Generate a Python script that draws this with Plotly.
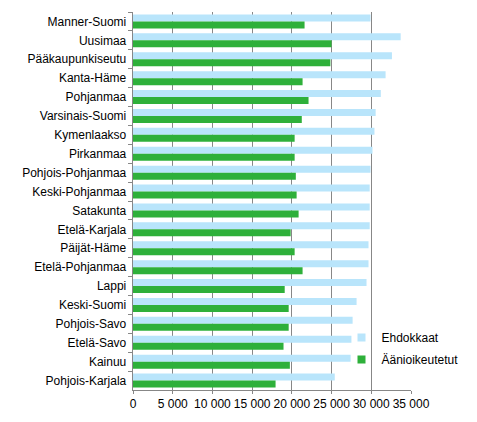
import plotly.graph_objects as go

categories = ["Manner-Suomi", "Uusimaa", "Pääkaupunkiseutu", "Kanta-Häme", "Pohjanmaa",
              "Varsinais-Suomi", "Kymenlaakso", "Pirkanmaa", "Pohjois-Pohjanmaa", "Keski-Pohjanmaa",
              "Satakunta", "Etelä-Karjala", "Päijät-Häme", "Etelä-Pohjanmaa", "Lappi",
              "Keski-Suomi", "Pohjois-Savo", "Etelä-Savo", "Kainuu", "Pohjois-Karjala"]
ehdokkaat = [29900, 33700, 32600, 31800, 31200, 30550, 30400, 30150, 29900, 29800,
             29800, 29800, 29650, 29650, 29400, 28150, 27650, 27500, 27400, 25400]
aanioikeutetut = [21600, 25000, 24850, 21350, 22100, 21250, 20350, 20350, 20500, 20600,
                  20850, 19850, 20350, 21350, 19100, 19600, 19600, 18950, 19750, 17950]
x_tickvals = [0, 5000, 10000, 15000, 20000, 25000, 30000, 35000]
x_ticktext = ["0", "5 000", "10 000", "15 000", "20 000", "25 000", "30 000", "35 000"]
series_names = ["Ehdokkaat", "Äänioikeutetut"]
series_colors = ["#B9E5FB", "#2EB03A"]

grid = "#878787"
fig = go.Figure()
for name, vals, col, grp in zip(series_names, [ehdokkaat, aanioikeutetut], series_colors, ["a", "b"]):
    fig.add_trace(go.Bar(y=categories, x=vals, orientation="h", name=name,
                         marker=dict(color=col, line=dict(width=0)),
                         legendgroup=grp, showlegend=False))
    # legend entry with a small square swatch (like the original)
    fig.add_trace(go.Scatter(x=[None], y=[None], mode="markers", name=name,
                             marker=dict(symbol="square", size=8, color=col, line=dict(width=0)),
                             legendgroup=grp, showlegend=True, hoverinfo="skip"))

fig.update_layout(
    width=477, height=422,
    margin=dict(l=133, r=66, t=12, b=32),
    barmode="group", bargap=0.26, bargroupgap=0,
    plot_bgcolor="white", paper_bgcolor="white",
    font=dict(family="Liberation Sans, Arial, sans-serif", size=12, color="black"),
    legend=dict(x=0.75, y=0.177, xanchor="left", yanchor="top", bgcolor="rgba(0,0,0,0)",
                font=dict(size=12), tracegroupgap=3, itemwidth=30),
    shapes=[dict(type="rect", xref="paper", yref="paper", x0=0.87, x1=1.2, y0=0.061, y1=0.164,
                 fillcolor="white", line=dict(width=0), layer="between")],
)
fig.update_xaxes(range=[0, 35000], tickvals=x_tickvals, ticktext=x_ticktext, tickangle=0,
                 showgrid=True, gridcolor=grid, gridwidth=1, showline=True, linecolor=grid,
                 ticks="outside", ticklen=3, tickcolor=grid, zeroline=False, fixedrange=True)
fig.update_yaxes(autorange="reversed", showline=True, linecolor=grid, ticks="outside",
                 tickson="boundaries", ticklen=4, tickcolor=grid, showgrid=False, ticksuffix=" ")

fig.write_html("out.html", config={"displayModeBar": False},
               post_script="document.body.style.margin='0';")
